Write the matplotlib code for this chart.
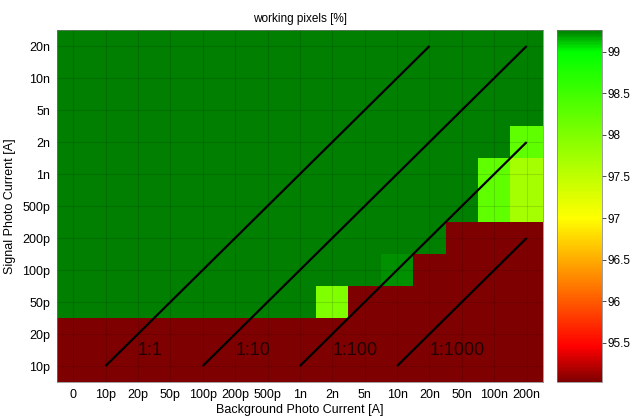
import matplotlib
matplotlib.use("Agg")
import matplotlib.pyplot as plt
import numpy as np
from matplotlib.colors import LinearSegmentedColormap

# axis categories
bg_labels = ["0", "10p", "20p", "50p", "100p", "200p", "500p", "1n", "2n",
             "5n", "10n", "20n", "50n", "100n", "200n"]
sig_labels = ["10p", "20p", "50p", "100p", "200p", "500p", "1n", "2n",
              "5n", "10n", "20n"]

# working pixels [%], one row per signal current (bottom row = 10p)
G = 99.26   # dark green cells
R = 95.03   # dark red cells
row_10p  = [R] * 15
row_20p  = [R] * 15
row_50p  = [G] * 8 + [98.0] + [R] * 6
row_100p = [G] * 10 + [99.22] + [R] * 4
row_200p = [G] * 12 + [R] * 3
row_500p = [G] * 13 + [98.25, 97.7]
row_1n   = [G] * 13 + [98.25, 97.7]
row_2n   = [G] * 14 + [98.25]
row_5n   = [G] * 15
row_10n  = [G] * 15
row_20n  = [G] * 15

# ratio lines: (label, start column, end column, end row)
ratio_names = ["1:1", "1:10", "1:100", "1:1000"]
ratio_x0 = [1, 4, 7, 10]
ratio_x1 = [11, 14, 14, 14]
ratio_y1 = [10, 10, 7, 4]

vmin, vmax = 95.03, 99.26

plt.rcParams["font.family"] = ["Liberation Sans", "DejaVu Sans"]

data = np.array([row_10p, row_20p, row_50p, row_100p, row_200p, row_500p,
                 row_1n, row_2n, row_5n, row_10n, row_20n])

cmap = LinearSegmentedColormap.from_list(
    "rg", [(0.0, (0.5, 0, 0)), (0.10, (1, 0, 0)), (0.466, (1, 1, 0)),
           (0.94, (0, 1, 0)), (1.0, (0, 0.5, 0))])

fig = plt.figure(figsize=(6.31, 4.18), dpi=100)
ax = fig.add_axes([0.0903, 0.0861, 0.770, 0.842])
cax = fig.add_axes([0.8827, 0.0861, 0.0713, 0.842])

im = ax.imshow(data, origin="lower", cmap=cmap, vmin=vmin, vmax=vmax,
               aspect="auto", interpolation="nearest",
               extent=(-0.5, len(bg_labels) - 0.5, -0.5, len(sig_labels) - 0.5))

ax.set_xticks(np.arange(len(bg_labels)))
ax.set_xticklabels(bg_labels, fontsize=9)
ax.set_yticks(np.arange(len(sig_labels)))
ax.set_yticklabels(sig_labels, fontsize=9)
ax.tick_params(length=0, pad=5)
ax.grid(True, color="black", alpha=0.12, lw=0.8)
for s in ax.spines.values():
    s.set_linewidth(0.5)
    s.set_color("#777777")

for name, x0, x1, y1 in zip(ratio_names, ratio_x0, ratio_x1, ratio_y1):
    ax.plot([x0, x1], [0, y1], color="black", lw=1.6, solid_capstyle="butt")
    ax.text(x0 + 1.0, 0.5, name, fontsize=13, color="black", alpha=0.75,
            ha="left", va="center")

ax.set_xlabel("Background Photo Current [A]", fontsize=9, labelpad=2)
ax.set_ylabel("Signal Photo Current [A]", fontsize=9, labelpad=4)
ax.set_title("working pixels [%]", fontsize=8.5, pad=6)

cb = fig.colorbar(im, cax=cax)
cb.set_ticks([95.5, 96, 96.5, 97, 97.5, 98, 98.5, 99])
cb.set_ticklabels(["95.5", "96", "96.5", "97", "97.5", "98", "98.5", "99"])
cax.tick_params(labelsize=8.5, length=3, width=0.5, direction="out", pad=1)
cb.outline.set_linewidth(0.5)
cb.outline.set_edgecolor("#777777")

fig.savefig("out.png", dpi=100)
